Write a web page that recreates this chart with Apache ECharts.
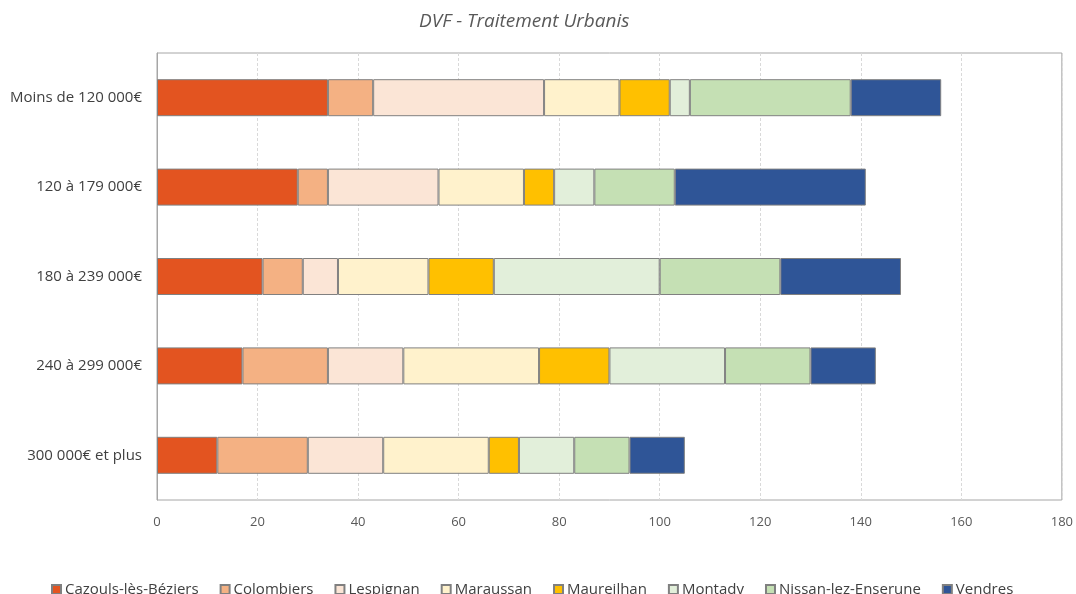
<!DOCTYPE html>
<html>
<head>
<meta charset="utf-8">
<script src="https://cdn.jsdelivr.net/npm/echarts@6/dist/echarts.min.js"></script>
<style>
  html, body { margin: 0; padding: 0; background: #ffffff; }
  #chart { width: 1076px; height: 594px; }
</style>
</head>
<body>
<div id="chart"></div>
<script>
// Price brackets (top to bottom in the chart)
const categories = ['Moins de 120 000€', '120 à 179 000€', '180 à 239 000€', '240 à 299 000€', '300 000€ et plus'];

// Number of sales per commune, one value per price bracket
const cazouls     = [34, 28, 21, 17, 12];
const colombiers  = [9, 6, 8, 17, 18];
const lespignan   = [34, 22, 7, 15, 15];
const maraussan   = [15, 17, 18, 27, 21];
const maureilhan  = [10, 6, 13, 14, 6];
const montady     = [4, 8, 33, 23, 11];
const nissan      = [32, 16, 24, 17, 11];
const vendres     = [18, 38, 24, 13, 11];

const communes = ['Cazouls-lès-Béziers', 'Colombiers', 'Lespignan', 'Maraussan', 'Maureilhan', 'Montady', 'Nissan-lez-Enserune', 'Vendres'];
const values = [cazouls, colombiers, lespignan, maraussan, maureilhan, montady, nissan, vendres];
const colors = ['#E35420', '#F4B183', '#FBE5D6', '#FFF2CC', '#FFC000', '#E2EFDA', '#C5E0B4', '#2F5597'];

const xTicks = { min: 0, max: 180, interval: 20 };

const FONT = "'Open Sans', 'Noto Sans', sans-serif";

const chart = echarts.init(document.getElementById('chart'), null, { renderer: 'canvas' });

chart.setOption({
  animation: false,
  backgroundColor: '#ffffff',
  title: {
    text: 'DVF - Traitement Urbanis',
    left: 414,
    top: 7,
    textStyle: { fontFamily: FONT, fontStyle: 'italic', fontWeight: 'normal', fontSize: 19, color: '#595959' }
  },
  grid: {
    left: 157, right: 11, top: 53, bottom: 94,
    show: true, borderColor: '#A6A6A6', borderWidth: 1, backgroundColor: 'transparent'
  },
  legend: {
    data: communes,
    bottom: -8,
    left: 46,
    itemWidth: 9,
    itemHeight: 9,
    itemGap: 21,
    icon: 'rect',
    textStyle: { fontFamily: FONT, fontSize: 15, color: '#404040', padding: [0, 0, 0, -1] }
  },
  xAxis: {
    type: 'value',
    min: xTicks.min, max: xTicks.max, interval: xTicks.interval,
    axisLine: { show: false },
    axisTick: { show: false },
    axisLabel: { fontFamily: FONT, fontSize: 13, color: '#595959', margin: 16 },
    splitLine: { show: true, lineStyle: { color: '#D9D9D9', type: [3, 2], width: 1 } }
  },
  yAxis: {
    type: 'category',
    data: categories,
    inverse: true,
    axisLine: { show: true, lineStyle: { color: '#A6A6A6', width: 1 } },
    axisTick: { show: false },
    axisLabel: { fontFamily: FONT, fontSize: 15, color: '#404040', margin: 15 },
    splitLine: { show: false }
  },
  series: communes.map((name, i) => ({
    name,
    type: 'bar',
    stack: 'total',
    barWidth: 37,
    data: values[i],
    itemStyle: { color: colors[i], borderColor: '#808080', borderWidth: 1 },
    emphasis: { disabled: true }
  }))
});
</script>
</body>
</html>
